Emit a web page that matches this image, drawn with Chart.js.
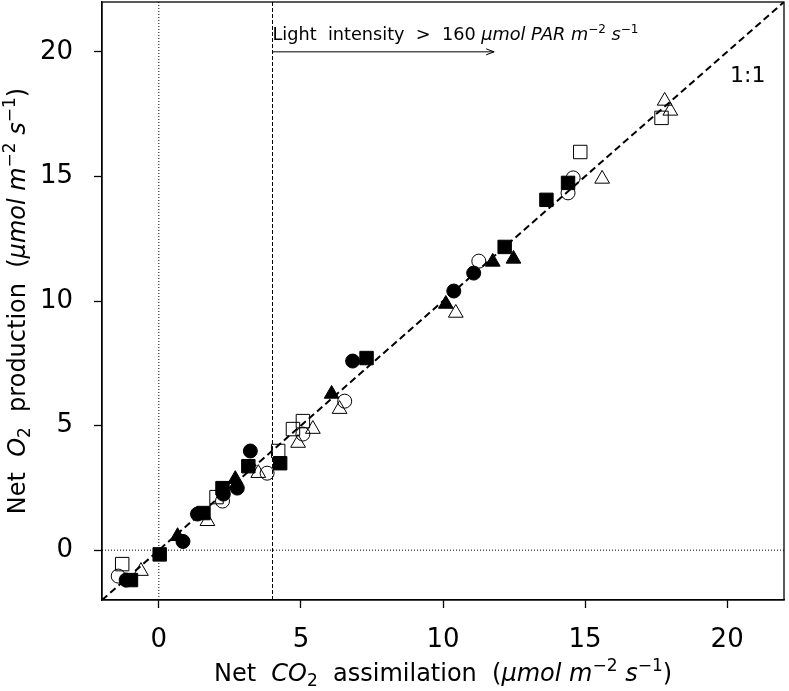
<!DOCTYPE html>
<html>
<head>
<meta charset="utf-8">
<script src="https://cdn.jsdelivr.net/npm/chart.js@4.4.0/dist/chart.umd.min.js"></script>
<style>
  html, body { margin: 0; padding: 0; background: #fff; }
</style>
</head>
<body>
<canvas id="chart" width="789" height="691"></canvas>
<script>
// data: net CO2 assimilation (x) vs net O2 production (y)
const filledCircleX = [-1.15, 0.85, 1.36, 2.27, 2.76, 3.22, 6.82, 10.38, 11.08];
const filledCircleY = [-1.20, 0.35, 1.45, 2.25, 2.49, 3.98, 7.59, 10.40, 11.12];

const filledSquareX = [-0.98, 0.03, 1.57, 2.24, 3.15, 4.27, 7.31, 12.17, 13.64, 14.40];
const filledSquareY = [-1.20, -0.17, 1.49, 2.49, 3.37, 3.49, 7.71, 12.17, 14.06, 14.74];

const filledTriangleX = [0.66, 2.69, 6.08, 10.10, 11.75, 12.48];
const filledTriangleY = [0.56, 2.85, 6.27, 9.88, 11.57, 11.69];

const openCircleX = [-1.43, 2.24, 3.81, 5.07, 6.54, 11.26, 14.58, 14.40];
const openCircleY = [-1.04, 1.97, 3.09, 4.66, 5.98, 11.60, 14.94, 14.34];

const openSquareX = [-1.29, 2.03, 4.20, 4.72, 5.07, 14.83, 17.69];
const openSquareY = [-0.56, 2.13, 3.98, 4.86, 5.18, 15.98, 17.35];

const openTriangleX = [-0.63, 1.71, 3.50, 4.90, 5.42, 6.36, 10.45, 15.60, 17.80, 18.00];
const openTriangleY = [-0.84, 1.16, 3.09, 4.30, 4.86, 5.66, 9.52, 14.90, 18.03, 17.63];

const axisMin = -2;
const axisMax = 22;
const tickValues = [0, 5, 10, 15, 20];
const lightThreshold = 4;      // dashed vertical line
const arrowY = 20;
const arrowEndX = 11.8;

function pts(xs, ys) {
    return xs.map((x, i) => ({ x: x, y: ys[i] }));
}

function markerSet(label, xs, ys, style, filled, radius) {
    return {
        type: 'scatter',
        label: label,
        data: pts(xs, ys),
        pointStyle: style,
        pointRadius: radius,
        pointHoverRadius: radius,
        pointBorderColor: '#000',
        pointBackgroundColor: filled ? '#000' : 'rgba(0,0,0,0)',
        pointBorderWidth: 1,
        order: 1
    };
}

function lineSet(label, data, dash, width) {
    return {
        type: 'line',
        label: label,
        data: data,
        borderColor: '#000',
        borderWidth: width,
        borderDash: dash,
        pointRadius: 0,
        fill: false,
        order: 5
    };
}

// draw text made of pieces: italic and sub / superscript
function richText(ctx, parts, x, y, size, align, rot) {
    ctx.save();
    ctx.translate(x, y);
    if (rot) ctx.rotate(rot);
    ctx.fillStyle = '#000';
    ctx.textBaseline = 'alphabetic';
    const fontOf = p => (p.i ? 'italic ' : '') + (p.s ? Math.round(size * 0.7) : size) + 'px "DejaVu Sans"';
    let w = 0;
    parts.forEach(p => { ctx.font = fontOf(p); w += ctx.measureText(p.t).width; });
    let cx = align === 'center' ? -w / 2 : 0;
    parts.forEach(p => {
        ctx.font = fontOf(p);
        const dy = p.s === 'sub' ? size * 0.22 : (p.s === 'sup' ? -size * 0.42 : 0);
        ctx.fillText(p.t, cx, dy + size * 0.36);
        cx += ctx.measureText(p.t).width;
    });
    ctx.restore();
}

const xTitle = [
    { t: 'Net  ' }, { t: 'CO', i: true }, { t: '2', s: 'sub' },
    { t: '  assimilation  (' }, { t: 'μmol m', i: true }, { t: '−2', s: 'sup' },
    { t: ' s', i: true }, { t: '−1', s: 'sup' }, { t: ')' }
];
const yTitle = [
    { t: 'Net  ' }, { t: 'O', i: true }, { t: '2', s: 'sub' },
    { t: '  production  (' }, { t: 'μmol m', i: true }, { t: '−2', s: 'sup' },
    { t: ' s', i: true }, { t: '−1', s: 'sup' }, { t: ')' }
];
const lightText = [
    { t: 'Light  intensity  >  160 ' }, { t: 'μmol PAR m', i: true }, { t: '−2', s: 'sup' },
    { t: ' s', i: true }, { t: '−1', s: 'sup' }
];

const decorPlugin = {
    id: 'decor',
    afterDatasetsDraw(chart) {
        const ctx = chart.ctx;
        const a = chart.chartArea;
        const xs = chart.scales.x, ys = chart.scales.y;

        // frame
        ctx.save();
        ctx.strokeStyle = '#000';
        ctx.lineWidth = 1.3;
        ctx.strokeRect(a.left, a.top, a.right - a.left, a.bottom - a.top);

        // arrow
        const x0 = xs.getPixelForValue(lightThreshold);
        const x1 = xs.getPixelForValue(arrowEndX);
        const ay = ys.getPixelForValue(arrowY);
        ctx.lineWidth = 1;
        ctx.beginPath();
        ctx.moveTo(x0, ay);
        ctx.lineTo(x1, ay);
        ctx.moveTo(x1 - 8, ay - 3);
        ctx.lineTo(x1, ay);
        ctx.lineTo(x1 - 8, ay + 3);
        ctx.stroke();
        ctx.restore();

        richText(ctx, lightText, x0, ys.getPixelForValue(20.72), 17.7, 'left');
        richText(ctx, [{ t: '1:1' }], xs.getPixelForValue(20.1), ys.getPixelForValue(19.1), 22, 'left');
    },
    afterDraw(chart) {
        const ctx = chart.ctx;
        const a = chart.chartArea;
        richText(ctx, xTitle, (a.left + a.right) / 2, 672, 24, 'center');
        richText(ctx, yTitle, 16, (a.top + a.bottom) / 2, 24, 'center', -Math.PI / 2);
    }
};

const axisTicks = {
    color: '#000',
    font: { family: 'DejaVu Sans', size: 26 }
};

new Chart(document.getElementById('chart'), {
    data: {
        datasets: [
            markerSet('filled circle', filledCircleX, filledCircleY, 'circle', true, 7),
            markerSet('filled square', filledSquareX, filledSquareY, 'rect', true, 9.5),
            markerSet('filled triangle', filledTriangleX, filledTriangleY, 'triangle', true, 8.5),
            markerSet('open circle', openCircleX, openCircleY, 'circle', false, 7),
            markerSet('open square', openSquareX, openSquareY, 'rect', false, 9.5),
            markerSet('open triangle', openTriangleX, openTriangleY, 'triangle', false, 8.5),
            lineSet('1:1', [{ x: axisMin, y: axisMin }, { x: axisMax, y: axisMax }], [7, 4], 2),
            lineSet('x = 0', [{ x: 0, y: axisMin }, { x: 0, y: axisMax }], [1, 2], 1),
            lineSet('y = 0', [{ x: axisMin, y: 0 }, { x: axisMax, y: 0 }], [1, 2], 1),
            lineSet('light', [{ x: lightThreshold, y: axisMin }, { x: lightThreshold, y: axisMax }], [4, 2], 1)
        ]
    },
    options: {
        responsive: false,
        animation: false,
        layout: { autoPadding: false, padding: { top: 2, right: 5, left: 0, bottom: 0 } },
        plugins: {
            legend: { display: false },
            tooltip: { enabled: false }
        },
        scales: {
            x: {
                type: 'linear',
                min: axisMin,
                max: axisMax,
                afterBuildTicks: s => { s.ticks = tickValues.map(v => ({ value: v })); },
                afterFit: s => { s.height = 91; s.paddingLeft = 0; s.paddingRight = 0; },
                ticks: Object.assign({ padding: 17 }, axisTicks),
                grid: { drawOnChartArea: false, drawTicks: true, tickLength: 8, color: '#000', tickWidth: 1.3 },
                border: { display: true, color: '#000', width: 1.3 }
            },
            y: {
                type: 'linear',
                min: axisMin,
                max: axisMax,
                afterBuildTicks: s => { s.ticks = tickValues.map(v => ({ value: v })); },
                afterFit: s => { s.width = 102; s.paddingTop = 0; s.paddingBottom = 0; },
                ticks: Object.assign({ padding: 21 }, axisTicks),
                grid: { drawOnChartArea: false, drawTicks: true, tickLength: 8, color: '#000', tickWidth: 1.3 },
                border: { display: true, color: '#000', width: 1.3 }
            }
        }
    },
    plugins: [decorPlugin]
});
</script>
</body>
</html>
